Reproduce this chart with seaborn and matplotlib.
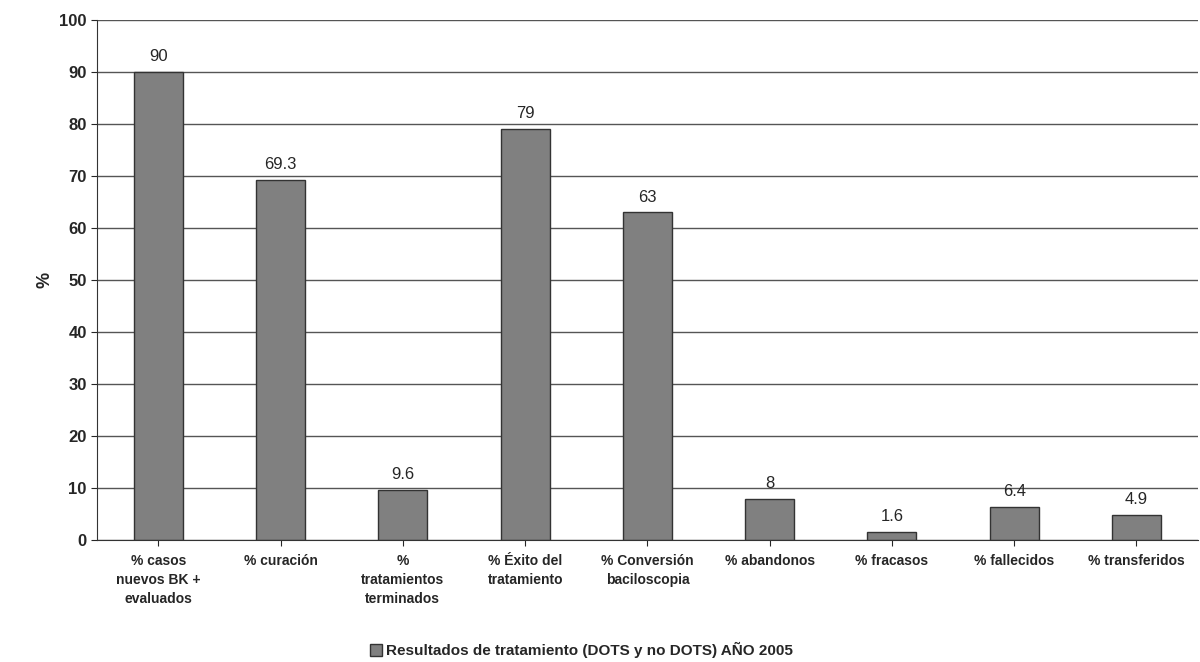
import matplotlib
matplotlib.use("Agg")
import matplotlib.pyplot as plt
import seaborn as sns
import pandas as pd

categories = ["% casos\nnuevos BK +\nevaluados", "% curación", "%\ntratamientos\nterminados",
              "% Éxito del\ntratamiento", "% Conversión\nbaciloscopia", "% abandonos",
              "% fracasos", "% fallecidos", "% transferidos"]
values = [90, 69.3, 9.6, 79, 63, 8, 1.6, 6.4, 4.9]
labels = ["90", "69.3", "9.6", "79", "63", "8", "1.6", "6.4", "4.9"]
series = "Resultados de tratamiento (DOTS y no DOTS) AÑO 2005"

sns.set_style("white")
plt.rcParams['font.family'] = ['Liberation Sans', 'DejaVu Sans']
df = pd.DataFrame({"cat": categories, "val": values, "s": series})

fig = plt.figure(figsize=(12, 6.62), dpi=100)
ax = fig.add_axes([0.081, 0.184, 0.917, 0.786])
sns.barplot(data=df, x="cat", y="val", hue="s", palette=["#808080"], width=0.4,
            edgecolor="#333333", linewidth=1, ax=ax, legend=True)
for i, (v, l) in enumerate(zip(values, labels)):
    ax.text(i, v + 1.5, l, ha="center", va="bottom", fontsize=12)
ax.set_ylim(0, 100)
ax.set_yticks(range(0, 101, 10))
ax.yaxis.grid(True, color="#555555", linewidth=1)
ax.set_axisbelow(True)
ax.set_xlabel("")
ax.set_ylabel("%", fontsize=13, fontweight="bold")
ax.tick_params(axis="y", labelsize=12, left=True, length=4)
ax.tick_params(axis="x", labelsize=10, bottom=True, length=4, pad=6)
for t in ax.get_yticklabels():
    t.set_fontweight("bold")
for t in ax.get_xticklabels():
    t.set_fontweight("bold")
    t.set_linespacing(1.45)
for s in ["top", "right"]:
    ax.spines[s].set_visible(False)
ax.spines["left"].set_color("#333333")
ax.spines["bottom"].set_color("#333333")
leg = ax.legend(loc="upper center", bbox_to_anchor=(0.44, -0.17), frameon=False,
                fontsize=11, handlelength=0.8, handleheight=0.8, handletextpad=0.3)
for t in leg.get_texts():
    t.set_fontweight("bold")
fig.savefig("out.png", dpi=100)
